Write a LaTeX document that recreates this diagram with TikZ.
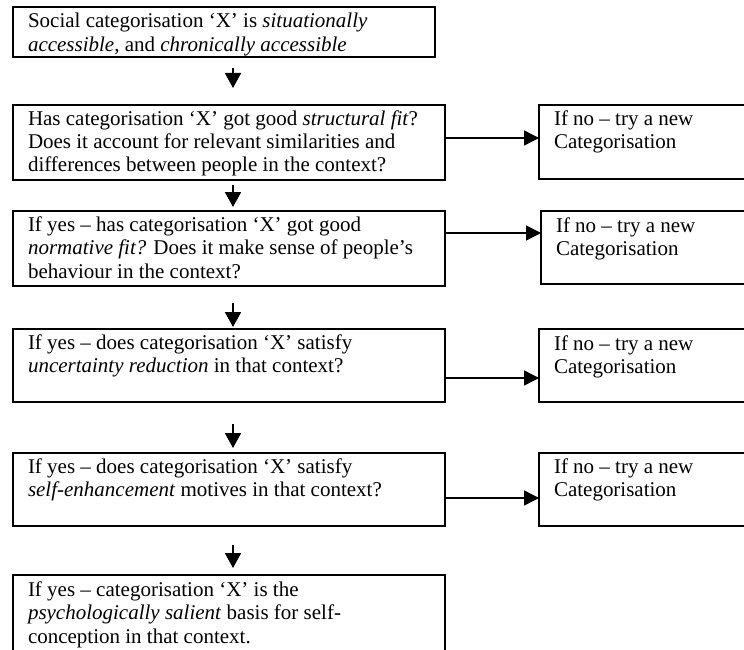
\documentclass[tikz,border=0pt]{standalone}
\usepackage{fontspec}
\setmainfont{Liberation Serif}
\usetikzlibrary{arrows.meta}
\tikzset{
  box/.style={draw, line width=2pt, anchor=north west, inner xsep=15pt, inner ysep=0pt, outer sep=0pt, font=\fontsize{21}{23.5}\selectfont},
  varrow/.style={line width=1.8pt, -{Triangle[length=15pt,width=16pt]}},
  harrow/.style={line width=1.4pt, -{Triangle[length=15pt,width=15pt]}},
}
\newcommand{\bxtext}[4]{\parbox[c][#2][t]{#1}{\raggedright\vspace*{\dimexpr#3-24pt\relax}\rule{0pt}{24pt}#4}}
\begin{document}
\begin{tikzpicture}[x=1pt,y=-1pt]
\useasboundingbox (0,0) rectangle (744,650);
\clip (0,0) rectangle (744,650);
\node[box] (b1) at (13,7) {\bxtext{392pt}{50pt}{21pt}{Social categorisation ‘X’ is \textit{situationally}\\\textit{accessible}, and \textit{chronically accessible}}};
\node[box] (b2) at (13,105) {\bxtext{402pt}{75pt}{20pt}{Has categorisation ‘X’ got good \textit{structural fit}?\\Does it account for relevant similarities and\\differences between people in the context?}};
\node[box] (b3) at (13,211) {\bxtext{402pt}{75pt}{20pt}{If yes – has categorisation ‘X’ got good\\\textit{normative fit?} Does it make sense of people’s\\behaviour in the context?}};
\node[box] (b4) at (13,329) {\bxtext{402pt}{73pt}{20pt}{If yes – does categorisation ‘X’ satisfy\\\textit{uncertainty reduction} in that context?}};
\node[box] (b5) at (13,453) {\bxtext{402pt}{73pt}{20pt}{If yes – does categorisation ‘X’ satisfy\\\textit{self-enhancement} motives in that context?}};
\node[box] (b6) at (13,575) {\bxtext{402pt}{90pt}{21pt}{If yes – categorisation ‘X’ is the\\\textit{psychologically salient} basis for self-\\conception in that context.}};
\node[box] (r1) at (539,105) {\bxtext{181pt}{74pt}{20pt}{If no – try a new\\Categorisation}};
\node[box] (r2) at (541,211) {\bxtext{181pt}{73pt}{21pt}{If no – try a new\\Categorisation}};
\node[box] (r3) at (539,329) {\bxtext{181pt}{73pt}{21pt}{If no – try a new\\Categorisation}};
\node[box] (r4) at (539,453) {\bxtext{181pt}{73pt}{20pt}{If no – try a new\\Categorisation}};
\coordinate (vx) at (233,0);
\coordinate (h1) at (0,138);
\coordinate (h2) at (0,233);
\coordinate (h3) at (0,378);
\coordinate (h4) at (0,498);
\draw[varrow, shorten <=11pt, shorten >=17pt] (b1.south -| vx) -- (b2.north -| vx);
\draw[varrow, shorten <=5pt, shorten >=4pt] (b2.south -| vx) -- (b3.north -| vx);
\draw[varrow, shorten <=17pt, shorten >=2pt] (b3.south -| vx) -- (b4.north -| vx);
\draw[varrow, shorten <=22pt, shorten >=5pt] (b4.south -| vx) -- (b5.north -| vx);
\draw[varrow, shorten <=19pt, shorten >=7pt] (b5.south -| vx) -- (b6.north -| vx);
\draw[harrow] (b2.east |- h1) -- (r1.west |- h1);
\draw[harrow] (b3.east |- h2) -- (r2.west |- h2);
\draw[harrow] (b4.east |- h3) -- (r3.west |- h3);
\draw[harrow] (b5.east |- h4) -- (r4.west |- h4);
\end{tikzpicture}
\end{document}
